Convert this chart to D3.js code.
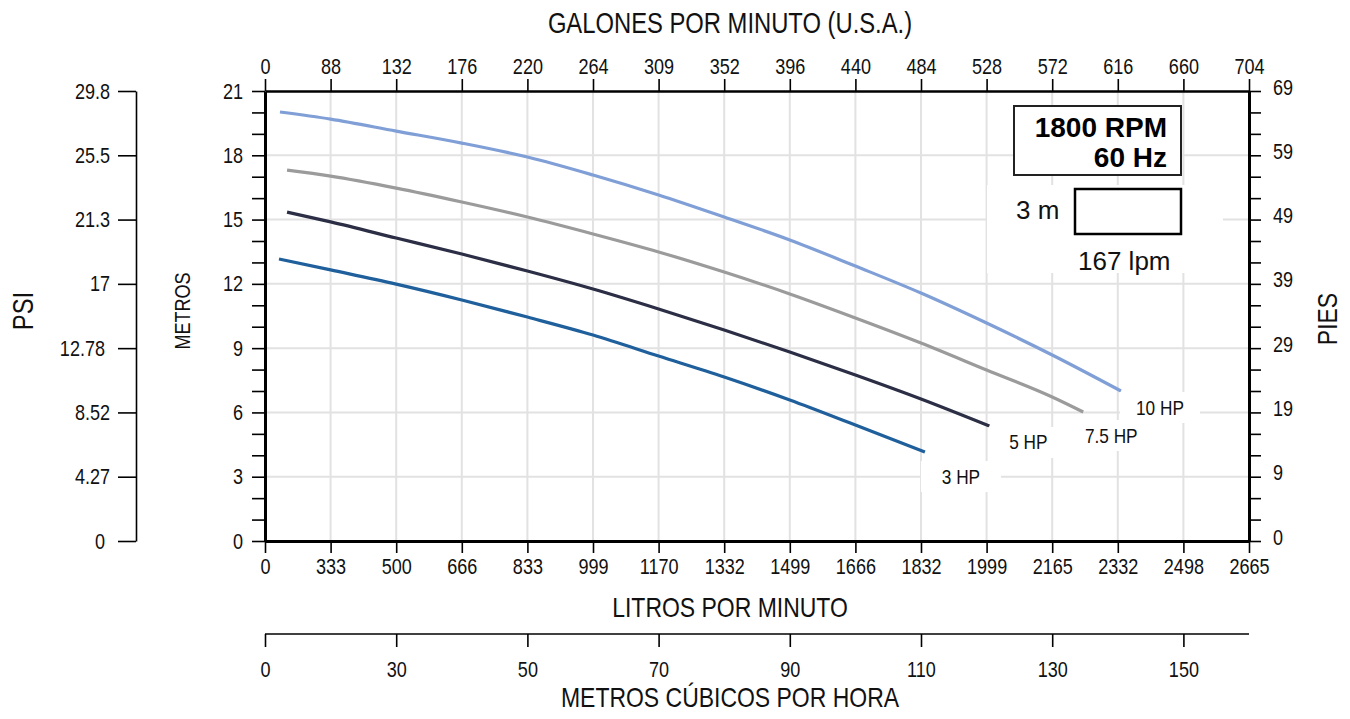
<!DOCTYPE html>
<html>
<head>
<meta charset="utf-8">
<script src="https://cdn.jsdelivr.net/npm/d3@7"></script>
<style>
  html, body { margin: 0; padding: 0; background: #fff; }
  svg { display: block; }
  .narrow { font-family: 'Liberation Sans', Arial, sans-serif; }
  .pre { white-space: pre; }
</style>
</head>
<body>
<svg id="chart" width="1350" height="719"></svg>
<script>
// ---------- DATA ----------
const lpmTicks = [0, 333, 500, 666, 833, 999, 1170, 1332, 1499, 1666, 1832, 1999, 2165, 2332, 2498, 2665];
const gpmTicks = [0, 88, 132, 176, 220, 264, 309, 352, 396, 440, 484, 528, 572, 616, 660, 704];
const m3hTicks = [0, 30, 50, 70, 90, 110, 130, 150];
const m3hTickIndex = [0, 2, 4, 6, 8, 10, 12, 14];
const metrosTicks = [0, 3, 6, 9, 12, 15, 18, 21];
const psiLabels = ["0 ", "4.27", "8.52", "12.78 ", "17", "21.3", "25.5", "29.8"];
const piesLabels = ["0", "9", "19", "29", "39", "49", "59", "69"];

const seriesNames = ["3 HP", "5 HP", "7.5 HP", "10 HP"];
const seriesColors = ["#1f5f9b", "#2b2e45", "#9b9b9b", "#7f9fd6"];

const lpm3 = [71, 333, 500, 666, 833, 999, 1170, 1332, 1499, 1666, 1842];
const m3 = [13.16, 12.65, 11.99, 11.25, 10.45, 9.61, 8.63, 7.65, 6.58, 5.41, 4.15];

const lpm5 = [112, 333, 500, 666, 833, 999, 1170, 1332, 1499, 1666, 1832, 2006];
const m5 = [15.35, 14.89, 14.14, 13.39, 12.60, 11.76, 10.83, 9.85, 8.82, 7.75, 6.63, 5.37];

const lpm75 = [112, 333, 500, 666, 833, 999, 1170, 1332, 1499, 1666, 1832, 1999, 2165, 2244];
const m75 = [17.31, 17.03, 16.47, 15.82, 15.12, 14.33, 13.49, 12.55, 11.53, 10.41, 9.24, 7.98, 6.72, 6.02];

const lpm10 = [76, 333, 500, 666, 833, 999, 1170, 1332, 1499, 1666, 1832, 1999, 2165, 2340];
const m10 = [20.02, 19.69, 19.13, 18.57, 17.92, 17.08, 16.15, 15.12, 14.05, 12.83, 11.57, 10.17, 8.68, 7.00];

const rpmText = ["1800 RPM", "60 Hz"];
const scaleText = ["3 m", "167 lpm"];
const titleTop = "GALONES POR MINUTO (U.S.A.)";
const titleBottom = "LITROS POR MINUTO";
const titleM3h = "METROS CÚBICOS POR HORA";
const titlePsi = "PSI";
const titleMetros = "METROS";
const titlePies = "PIES";

// ---------- LAYOUT ----------
const L = 265, R = 1249, T = 91, B = 541;
const svg = d3.select("#chart");
const FONT = 22;

const idxX = d3.scaleLinear().domain([0, 15]).range([L, R]);
const xL = d3.scaleLinear().domain(lpmTicks).range(lpmTicks.map((d, i) => idxX(i)));
const xG = d3.scaleLinear().domain(gpmTicks).range(gpmTicks.map((d, i) => idxX(i)));
const xM = d3.scaleLinear().domain(m3hTicks).range(m3hTickIndex.map(i => idxX(i)));
const y = d3.scaleLinear().domain([0, 21]).range([B, T]);

// grid
const grid = svg.append("g").attr("stroke", "#e2e2e2").attr("stroke-width", 2);
grid.selectAll("line.v").data(lpmTicks.slice(1, -1)).join("line")
  .attr("x1", d => xL(d)).attr("x2", d => xL(d)).attr("y1", T).attr("y2", B);
grid.selectAll("line.h").data(metrosTicks.slice(1, -1)).join("line")
  .attr("x1", L).attr("x2", R).attr("y1", d => y(d)).attr("y2", d => y(d));

// white background behind scale legend
svg.append("rect").attr("x", 987).attr("y", 185).attr("width", 236).attr("height", 88).attr("fill", "#fff");

// curves
const series = [
  { name: seriesNames[0], color: seriesColors[0], x: lpm3, y: m3, off: [36, 24] },
  { name: seriesNames[1], color: seriesColors[1], x: lpm5, y: m5, off: [39, 16] },
  { name: seriesNames[2], color: seriesColors[2], x: lpm75, y: m75, off: [28, 23] },
  { name: seriesNames[3], color: seriesColors[3], x: lpm10, y: m10, off: [39, 16] }
];
const line = d3.line().x(d => xL(d[0])).y(d => y(d[1])).curve(d3.curveMonotoneX);
svg.append("g").selectAll("path").data(series).join("path")
  .attr("d", s => line(s.x.map((v, i) => [v, s.y[i]])))
  .attr("fill", "none").attr("stroke", s => s.color).attr("stroke-width", 3.2);

// curve labels
const lab = svg.append("g").selectAll("g").data(series).join("g")
  .attr("transform", s => {
    const n = s.x.length - 1;
    return `translate(${xL(s.x[n]) + s.off[0]},${y(s.y[n]) + s.off[1]})`;
  });
lab.append("rect").attr("x", -40).attr("y", -15).attr("width", 80).attr("height", 31).attr("fill", "#fff");
lab.append("text").attr("class", "narrow").attr("text-anchor", "middle").attr("dy", "0.36em")
  .attr("font-size", 21).attr("fill", "#111").text(s => s.name);

// axes
function styleAxis(g, sw) {
  g.selectAll(".domain").attr("stroke", "#000").attr("stroke-width", sw);
  g.selectAll(".tick line").attr("stroke", "#000").attr("stroke-width", 1.6);
  g.selectAll("text").attr("class", "narrow pre").attr("font-size", FONT).attr("fill", "#111");
  g.attr("font-family", null);
}

// top (GPM)
const gTop = svg.append("g").attr("transform", `translate(0,${T})`)
  .call(d3.axisTop(xG).tickValues(gpmTicks).tickFormat(d => d).tickSize(12).tickSizeOuter(0).tickPadding(5));
styleAxis(gTop, 2.5);

// bottom (LPM)
const gBot = svg.append("g").attr("transform", `translate(0,${B})`)
  .call(d3.axisBottom(xL).tickValues(lpmTicks).tickFormat(d => d).tickSize(12).tickSizeOuter(0).tickPadding(5));
styleAxis(gBot, 3);

// left (METROS)
const gLeft = svg.append("g").attr("transform", `translate(${L},0)`)
  .call(d3.axisLeft(y).tickValues(d3.range(0, 22)).tickFormat(d => d % 3 === 0 ? d : "").tickSize(13).tickSizeOuter(0).tickPadding(9));
styleAxis(gLeft, 3);

// right (PIES)
const gRight = svg.append("g").attr("transform", `translate(${R},0)`)
  .call(d3.axisRight(y).tickValues(d3.range(0, 22)).tickFormat(d => d % 3 === 0 ? piesLabels[d / 3] : "").tickSize(12).tickSizeOuter(0).tickPadding(12));
styleAxis(gRight, 3);
gRight.selectAll("text").attr("y", -4);

// PSI axis
const gPsi = svg.append("g").attr("transform", `translate(136,0)`)
  .call(d3.axisLeft(y).tickValues(metrosTicks).tickFormat((d, i) => psiLabels[i]).tickSize(18).tickSizeOuter(0).tickPadding(8));
styleAxis(gPsi, 1.6);

// m3/h axis
const gM = svg.append("g").attr("transform", `translate(0,634)`)
  .call(d3.axisBottom(xM).tickValues(m3hTicks).tickFormat(d => d).tickSize(13).tickSizeOuter(0).tickPadding(14));
gM.select(".domain").attr("d", `M${L},0H${R}`);
styleAxis(gM, 1.6);

// titles
svg.append("text").attr("class", "narrow").attr("x", 730).attr("y", 33).attr("text-anchor", "middle")
  .attr("font-size", 29).attr("fill", "#111").text(titleTop);
svg.append("text").attr("class", "narrow").attr("x", 730).attr("y", 617).attr("text-anchor", "middle")
  .attr("font-size", 28).attr("fill", "#111").text(titleBottom);
svg.append("text").attr("class", "narrow").attr("x", 730).attr("y", 707).attr("text-anchor", "middle")
  .attr("font-size", 28).attr("fill", "#111").text(titleM3h);
svg.append("text").attr("class", "narrow").attr("transform", "translate(33,311) rotate(-90)").attr("text-anchor", "middle")
  .attr("font-size", 29).attr("fill", "#111").text(titlePsi);
svg.append("text").attr("class", "narrow").attr("transform", "translate(190,311) rotate(-90)").attr("text-anchor", "middle")
  .attr("font-size", 22).attr("fill", "#111").text(titleMetros);
svg.append("text").attr("class", "narrow").attr("transform", "translate(1337,319) rotate(-90)").attr("text-anchor", "middle")
  .attr("font-size", 28).attr("fill", "#111").text(titlePies);

// RPM box
svg.append("rect").attr("x", 1014).attr("y", 106).attr("width", 167).attr("height", 69)
  .attr("fill", "#fff").attr("stroke", "#222").attr("stroke-width", 2);
svg.append("g").selectAll("text").data(rpmText).join("text")
  .attr("x", 1167).attr("y", (d, i) => 137 + i * 30).attr("text-anchor", "end")
  .attr("font-family", "'Liberation Sans', Arial, sans-serif").attr("font-weight", "bold")
  .attr("font-size", 28).attr("fill", "#000").text(d => d);

// scale legend
svg.append("rect").attr("x", 1075).attr("y", 189).attr("width", 106).attr("height", 45)
  .attr("fill", "#fff").attr("stroke", "#000").attr("stroke-width", 2.5);
svg.append("text").attr("x", 1016).attr("y", 219).attr("font-family", "'Liberation Sans', Arial, sans-serif")
  .attr("font-size", 26).attr("fill", "#111").text(scaleText[0]);
svg.append("text").attr("x", 1078).attr("y", 270).attr("font-family", "'Liberation Sans', Arial, sans-serif")
  .attr("font-size", 26).attr("fill", "#111").text(scaleText[1]);

// emulate a condensed face: squeeze glyphs horizontally
svg.selectAll("text.narrow").each(function () {
  const len = this.getComputedTextLength();
  if (len > 0) {
    d3.select(this).attr("textLength", len * 0.82).attr("lengthAdjust", "spacingAndGlyphs");
  }
});
</script>
</body>
</html>
